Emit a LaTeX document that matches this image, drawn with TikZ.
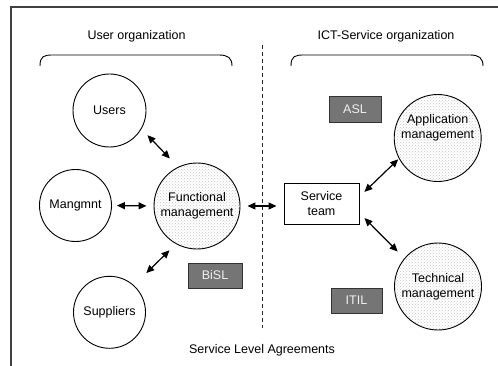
\documentclass[tikz,border=0pt]{standalone}
\usepackage{fontspec}
\setmainfont{Liberation Sans}
\usetikzlibrary{arrows.meta,patterns,calc}
\begin{document}
\begin{tikzpicture}[x=1pt,y=-1pt,
  every node/.style={font=\fontsize{12.5}{15}\selectfont, text=black, align=center},
  org/.style={circle, draw=black, line width=0.9pt, inner sep=0pt, fill=white},
  dotted org/.style={org, pattern=crosshatch dots, pattern color=black!22},
  method/.style={draw=black!80, fill=black!54, line width=0.9pt, text=black!6,
    inner sep=0pt, minimum height=25pt},
  teambox/.style={draw=black, line width=0.9pt, fill=white, inner sep=0pt,
    minimum width=75pt, minimum height=41pt},
  link/.style={line width=1.2pt, black,
    {Triangle[length=8pt,width=7pt]}-{Triangle[length=8pt,width=7pt]}},
  bracket/.style={line width=0.9pt, black},
]
\useasboundingbox (0,0) rectangle (498,366);

% open frame
\draw[line width=1.3pt, black!75] (11,366) -- (11,7) -- (498,7);

% headings and group brackets
\node[anchor=base] (userorg) at (136.5,40) {User organization};
\node[anchor=base] (ictorg) at (386,40) {ICT-Service organization};
\draw[bracket] (40,66) .. controls (40,56) and (44,55) .. (53,55) -- (219,55)
  .. controls (228,55) and (232,58) .. (232,66);
\draw[bracket] (291,66) .. controls (291,56) and (295,55) .. (304,55) -- (470,55)
  .. controls (479,55) and (483,58) .. (483,66);

% boundary between the organizations
\draw[line width=0.9pt, black!85, dash pattern=on 4pt off 3pt] (262,45) -- (262,328);

% user side
\node[org, minimum size=73pt] (users) at (109.5,110.5) {Users};
\node[org, minimum size=72pt] (mang) at (75.5,205.5) {Mangmnt};
\node[org, minimum size=72pt] (sup) at (109.5,312.3) {Suppliers};
\node[dotted org, minimum size=86pt] (func) at (197,206) {};
\node at (func.center) {Functional\\management};
\node[method, minimum width=54pt] (bisl) at (215,275.5) {BiSL};

% ICT side
\node[teambox] (st) at (321.5,203.5) {Service\\team};
\node[dotted org, minimum size=87pt] (app) at (437.7,138) {};
\node at ([yshift=10pt]app.center) {Application\\management};
\node[dotted org, minimum size=87pt] (tech) at (438,286.5) {};
\node at (tech.center) {Technical\\management};
\node[method, minimum width=52pt, minimum height=26pt] (asl) at (355,109) {ASL};
\node[method, minimum width=51pt] (itil) at (356.5,300.5) {ITIL};

% agreements
\node[anchor=base] (sla) at (262,353) {Service Level Agreements};

% relations
\draw[link, shorten <=8.6pt, shorten >=11.7pt] (users.-30) -- (func.116);
\draw[link, shorten <=5pt, shorten >=7pt] (mang.east) -- (func.west);
\draw[link, shorten <=17.3pt, shorten >=9pt] (sup.48) -- (func.241);
\draw[link, shorten <=7pt, shorten >=7pt] (func.east) -- (func.east -| st.west);
\draw[link, shorten <=6.9pt, shorten >=1pt] ([yshift=6.8pt]st.east) -- (app.208);
\draw[link, shorten <=7.1pt, shorten >=9.4pt] ([yshift=-9.5pt]st.east) -- (tech.140);
\end{tikzpicture}
\end{document}
